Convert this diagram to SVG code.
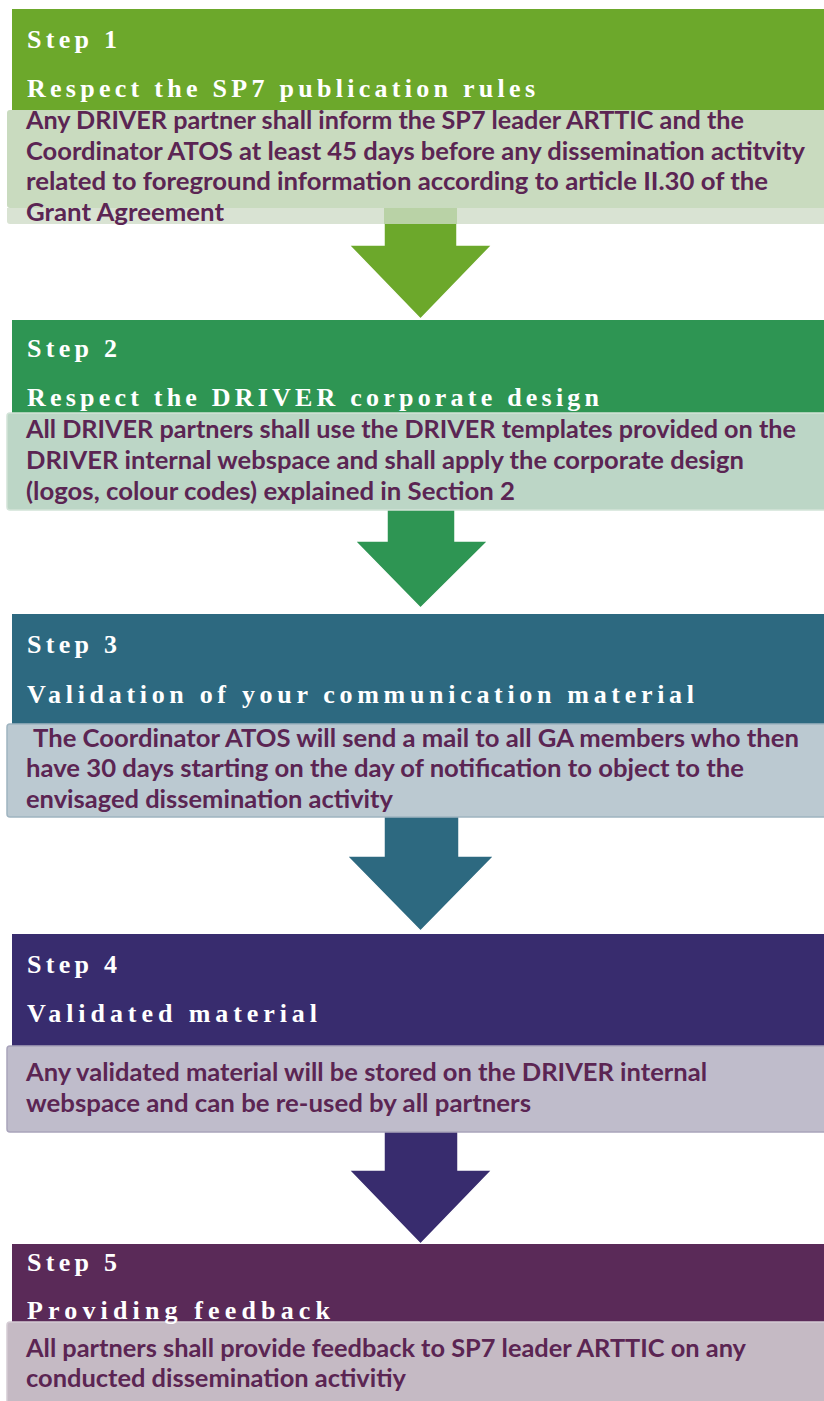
<svg xmlns="http://www.w3.org/2000/svg" width="824" height="1401" viewBox="0 0 824 1401">
<style>
.hd{font-family:"Liberation Serif","Times New Roman",serif;font-weight:bold;font-size:26px;fill:#ffffff}
.bd{font-family:Lato,"Liberation Sans",sans-serif;font-weight:bold;font-size:24.5px;fill:#5b2553}
.arr{stroke:#ffffff;stroke-width:1.5;stroke-linejoin:miter}
</style>
<rect width="824" height="1401" fill="#ffffff"/>
<g id="connectors">
  <path class="arr" fill="#6ca82b" d="M384,208 H457 V245 H492 L420.5,319 L349,245 H384 Z"/>
  <path class="arr" fill="#2e9553" d="M387,505 H455 V541 H488 L420.5,608 L355,541 H387 Z"/>
  <path class="arr" fill="#2d6980" d="M384,812 H459 V856 H494 L420.5,931 L347,856 H384 Z"/>
  <path class="arr" fill="#382c6e" d="M384,1128 H458 V1170 H492 L420.5,1244 L349,1170 H384 Z"/>
</g>
<g id="step1">
  <rect x="12" y="9" width="830" height="102" fill="#6ca82b"/>
  <path d="M7,208 H384 V224 H10 Q7,224 7,221 Z" fill="#d9e3d3"/>
  <rect x="457" y="208" width="380" height="16" fill="#d9e3d3"/>
  <rect x="384" y="208" width="73" height="16" fill="#b9d2a6"/>
  <rect x="7" y="110" width="830" height="98" rx="3" fill="#c9dbbf"/>
  <text class="hd" x="27" y="48" textLength="90" lengthAdjust="spacing">Step 1</text>
  <text class="hd" x="27" y="97" textLength="508" lengthAdjust="spacing">Respect the SP7 publication rules</text>
  <text class="bd" x="26" y="129" textLength="718" lengthAdjust="spacingAndGlyphs">Any DRIVER partner shall inform the SP7 leader ARTTIC and the</text>
  <text class="bd" x="26" y="159.5" textLength="779" lengthAdjust="spacingAndGlyphs">Coordinator ATOS at least 45 days before any dissemination actitvity</text>
  <text class="bd" x="26" y="190" textLength="742" lengthAdjust="spacingAndGlyphs">related to foreground information according to article II.30 of the</text>
  <text class="bd" x="26" y="221" textLength="198" lengthAdjust="spacingAndGlyphs">Grant Agreement</text>
</g>
<g id="step2">
  <rect x="12" y="320" width="830" height="94" fill="#2e9553"/>
  <rect x="7" y="413" width="830" height="97" rx="3" fill="#bcd6c6" stroke="#d2e3d8" stroke-width="1.5"/>
  <text class="hd" x="27" y="357" textLength="90" lengthAdjust="spacing">Step 2</text>
  <text class="hd" x="27" y="406" textLength="572" lengthAdjust="spacing">Respect the DRIVER corporate design</text>
  <text class="bd" x="26" y="438" textLength="770" lengthAdjust="spacingAndGlyphs">All DRIVER partners shall use the DRIVER templates provided on the</text>
  <text class="bd" x="26" y="469" textLength="718" lengthAdjust="spacingAndGlyphs">DRIVER internal webspace and shall apply the corporate design</text>
  <text class="bd" x="26" y="500" textLength="489" lengthAdjust="spacingAndGlyphs">(logos, colour codes) explained in Section 2</text>
</g>
<g id="step3">
  <rect x="12" y="614" width="830" height="111" fill="#2d6980"/>
  <rect x="7" y="724" width="830" height="93" rx="3" fill="#bbc9d1" stroke="#9fb4c0" stroke-width="1.5"/>
  <text class="hd" x="27" y="653" textLength="90" lengthAdjust="spacing">Step 3</text>
  <text class="hd" x="27" y="703" textLength="667" lengthAdjust="spacing">Validation of your communication material</text>
  <text class="bd" x="33" y="747" textLength="766" lengthAdjust="spacingAndGlyphs">The Coordinator ATOS will send a mail to all GA members who then</text>
  <text class="bd" x="26" y="777" textLength="718" lengthAdjust="spacingAndGlyphs">have 30 days starting on the day of notification to object to the</text>
  <text class="bd" x="26" y="808" textLength="367" lengthAdjust="spacingAndGlyphs">envisaged dissemination activity</text>
</g>
<g id="step4">
  <rect x="12" y="934" width="830" height="113" fill="#382c6e"/>
  <rect x="7" y="1046" width="830" height="86" rx="3" fill="#bfbccb" stroke="#a9a4bb" stroke-width="1.5"/>
  <text class="hd" x="27" y="973" textLength="90" lengthAdjust="spacing">Step 4</text>
  <text class="hd" x="27" y="1022" textLength="290" lengthAdjust="spacing">Validated material</text>
  <text class="bd" x="26" y="1081" textLength="681" lengthAdjust="spacingAndGlyphs">Any validated material will be stored on the DRIVER internal</text>
  <text class="bd" x="26" y="1112" textLength="505" lengthAdjust="spacingAndGlyphs">webspace and can be re-used by all partners</text>
</g>
<g id="step5">
  <rect x="12" y="1244" width="830" height="80" fill="#5a2a58"/>
  <rect x="7" y="1322" width="830" height="90" rx="3" fill="#c5bac4" stroke="#d5ccd4" stroke-width="1.5"/>
  <text class="hd" x="27" y="1271" textLength="90" lengthAdjust="spacing">Step 5</text>
  <text class="hd" x="27" y="1319" textLength="303" lengthAdjust="spacing">Providing feedback</text>
  <text class="bd" x="26" y="1357" textLength="720" lengthAdjust="spacingAndGlyphs">All partners shall provide feedback to SP7 leader ARTTIC on any</text>
  <text class="bd" x="26" y="1387" textLength="380" lengthAdjust="spacingAndGlyphs">conducted dissemination activitiy</text>
</g>
</svg>
